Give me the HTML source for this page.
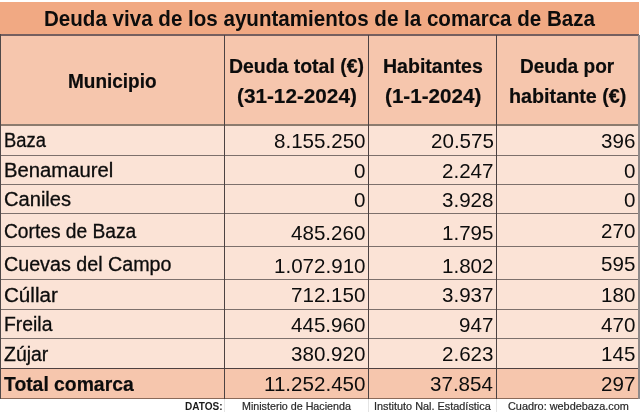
<!DOCTYPE html><html><head><meta charset="utf-8"><title>Deuda viva de los ayuntamientos de la comarca de Baza</title><style>
html,body{margin:0;padding:0;background:#fff;}
body{width:640px;height:412px;position:relative;overflow:hidden;font-family:"Liberation Sans",sans-serif;}
.b{position:absolute;}
.t{position:absolute;white-space:nowrap;line-height:1;display:inline-block;transform-origin:0 0;}
.m{display:inline-block;width:0;height:0;}
</style></head><body>
<div class="b" style="left:0.00px;top:1.85px;width:639.00px;height:33.10px;background:#F1A983"></div>
<div class="b" style="left:0.00px;top:34.95px;width:639.00px;height:90.05px;background:#F6C6AD"></div>
<div class="b" style="left:0.00px;top:125.00px;width:639.00px;height:243.40px;background:#FBE3D6"></div>
<div class="b" style="left:0.00px;top:368.40px;width:639.00px;height:30.80px;background:#F6C6AD"></div>
<div class="b" style="left:223.80px;top:398.80px;width:1.00px;height:20.00px;background:#e4e4e4"></div>
<div class="b" style="left:368.10px;top:398.80px;width:1.00px;height:20.00px;background:#e4e4e4"></div>
<div class="b" style="left:495.90px;top:398.80px;width:1.00px;height:20.00px;background:#e4e4e4"></div>
<div class="b" style="left:0.00px;top:154.88px;width:639.00px;height:0.85px;background:#7d706c"></div>
<div class="b" style="left:0.00px;top:183.88px;width:639.00px;height:0.85px;background:#7d706c"></div>
<div class="b" style="left:0.00px;top:212.97px;width:639.00px;height:0.85px;background:#7d706c"></div>
<div class="b" style="left:0.00px;top:246.07px;width:639.00px;height:0.85px;background:#7d706c"></div>
<div class="b" style="left:0.00px;top:279.18px;width:639.00px;height:0.85px;background:#7d706c"></div>
<div class="b" style="left:0.00px;top:308.68px;width:639.00px;height:0.85px;background:#7d706c"></div>
<div class="b" style="left:0.00px;top:338.18px;width:639.00px;height:0.85px;background:#7d706c"></div>
<div class="b" style="left:0.00px;top:34.10px;width:639.00px;height:1.70px;background:#755f5f"></div>
<div class="b" style="left:0.00px;top:124.00px;width:639.00px;height:2.00px;background:#8c7b6e"></div>
<div class="b" style="left:0.00px;top:367.85px;width:639.00px;height:1.10px;background:#4d4040"></div>
<div class="b" style="left:0.00px;top:398.30px;width:639.00px;height:1.00px;background:#8a6a5a"></div>
<div class="b" style="left:0.00px;top:34.15px;width:0.90px;height:365.15px;background:#4f4848"></div>
<div class="b" style="left:223.85px;top:34.95px;width:0.90px;height:364.15px;background:#4c4242"></div>
<div class="b" style="left:368.15px;top:34.95px;width:0.90px;height:364.15px;background:#4c4242"></div>
<div class="b" style="left:495.95px;top:34.95px;width:0.90px;height:364.15px;background:#4c4242"></div>
<div class="b" style="left:638.25px;top:34.95px;width:1.30px;height:364.35px;background:#8f8a8a"></div>
<span class="t" style="left:44.33px;top:7.25px;font-size:22.8px;font-weight:bold;color:#0c0c0c;transform:scaleX(0.9022)">Deuda viva de los ayuntamientos de la comarca de Baza</span>
<span class="t" style="left:67.74px;top:71.25px;font-size:20.0px;font-weight:bold;-webkit-text-stroke:0.2px #0c0c0c;color:#0c0c0c;transform:scaleX(0.9481)">Municipio</span>
<span class="t" style="left:228.87px;top:56.25px;font-size:20.0px;font-weight:bold;-webkit-text-stroke:0.2px #0c0c0c;color:#0c0c0c;transform:scaleX(0.9714)">Deuda total (€)</span>
<span class="t" style="left:237.26px;top:86.25px;font-size:20.6px;font-weight:bold;-webkit-text-stroke:0.2px #0c0c0c;color:#0c0c0c;transform:scaleX(1.0065)">(31-12-2024)</span>
<span class="t" style="left:383.00px;top:56.25px;font-size:20.0px;font-weight:bold;-webkit-text-stroke:0.2px #0c0c0c;color:#0c0c0c;transform:scaleX(0.9765)">Habitantes</span>
<span class="t" style="left:384.87px;top:86.25px;font-size:20.6px;font-weight:bold;-webkit-text-stroke:0.2px #0c0c0c;color:#0c0c0c;transform:scaleX(1.0028)">(1-1-2024)</span>
<span class="t" style="left:520.23px;top:56.25px;font-size:20.0px;font-weight:bold;-webkit-text-stroke:0.2px #0c0c0c;color:#0c0c0c;transform:scaleX(0.9523)">Deuda por</span>
<span class="t" style="left:508.77px;top:86.25px;font-size:20.0px;font-weight:bold;-webkit-text-stroke:0.2px #0c0c0c;color:#0c0c0c;transform:scaleX(0.9876)">habitante (€)</span>
<span class="t" style="left:4.20px;top:130.25px;font-size:20.0px;-webkit-text-stroke:0.3px #0c0c0c;color:#0c0c0c;transform:scaleX(0.9181)">Baza</span>
<span class="t" style="left:3.69px;top:160.25px;font-size:20.0px;-webkit-text-stroke:0.3px #0c0c0c;color:#0c0c0c;transform:scaleX(1.0135)">Benamaurel</span>
<span class="t" style="left:3.81px;top:189.25px;font-size:20.0px;-webkit-text-stroke:0.3px #0c0c0c;color:#0c0c0c;transform:scaleX(1.0055)">Caniles</span>
<span class="t" style="left:4.14px;top:221.25px;font-size:20.0px;-webkit-text-stroke:0.3px #0c0c0c;color:#0c0c0c;transform:scaleX(0.9597)">Cortes de Baza</span>
<span class="t" style="left:3.56px;top:254.25px;font-size:20.0px;-webkit-text-stroke:0.3px #0c0c0c;color:#0c0c0c;transform:scaleX(0.9845)">Cuevas del Campo</span>
<span class="t" style="left:3.67px;top:285.25px;font-size:20.0px;-webkit-text-stroke:0.3px #0c0c0c;color:#0c0c0c;transform:scaleX(1.0295)">Cúllar</span>
<span class="t" style="left:3.74px;top:314.25px;font-size:20.0px;-webkit-text-stroke:0.3px #0c0c0c;color:#0c0c0c;transform:scaleX(0.9687)">Freila</span>
<span class="t" style="left:3.88px;top:344.25px;font-size:20.0px;-webkit-text-stroke:0.3px #0c0c0c;color:#0c0c0c;transform:scaleX(0.9728)">Zújar</span>
<span class="t" style="left:3.68px;top:374.25px;font-size:20.0px;font-weight:bold;-webkit-text-stroke:0.2px #0c0c0c;color:#0c0c0c;transform:scaleX(0.9667)">Total comarca</span>
<span class="t" style="left:273.61px;top:130.25px;font-size:21.0px;color:#0c0c0c;transform:scaleX(0.9800)">8.155.250</span>
<span class="t" style="left:430.98px;top:130.25px;font-size:21.0px;color:#0c0c0c;transform:scaleX(0.9800)">20.575</span>
<span class="t" style="left:600.83px;top:130.25px;font-size:21.0px;color:#0c0c0c;transform:scaleX(0.9800)">396</span>
<span class="t" style="left:353.72px;top:160.25px;font-size:21.0px;color:#0c0c0c;transform:scaleX(0.9800)">0</span>
<span class="t" style="left:441.87px;top:160.25px;font-size:21.0px;color:#0c0c0c;transform:scaleX(0.9800)">2.247</span>
<span class="t" style="left:623.72px;top:160.25px;font-size:21.0px;color:#0c0c0c;transform:scaleX(0.9800)">0</span>
<span class="t" style="left:353.72px;top:189.25px;font-size:21.0px;color:#0c0c0c;transform:scaleX(0.9800)">0</span>
<span class="t" style="left:441.87px;top:189.25px;font-size:21.0px;color:#0c0c0c;transform:scaleX(0.9800)">3.928</span>
<span class="t" style="left:623.72px;top:189.25px;font-size:21.0px;color:#0c0c0c;transform:scaleX(0.9800)">0</span>
<span class="t" style="left:290.77px;top:222.25px;font-size:21.0px;color:#0c0c0c;transform:scaleX(0.9800)">485.260</span>
<span class="t" style="left:441.87px;top:222.25px;font-size:21.0px;color:#0c0c0c;transform:scaleX(0.9800)">1.795</span>
<span class="t" style="left:600.83px;top:220.25px;font-size:21.0px;color:#0c0c0c;transform:scaleX(0.9800)">270</span>
<span class="t" style="left:273.61px;top:255.25px;font-size:21.0px;color:#0c0c0c;transform:scaleX(0.9800)">1.072.910</span>
<span class="t" style="left:441.87px;top:255.25px;font-size:21.0px;color:#0c0c0c;transform:scaleX(0.9800)">1.802</span>
<span class="t" style="left:600.83px;top:253.25px;font-size:21.0px;color:#0c0c0c;transform:scaleX(0.9800)">595</span>
<span class="t" style="left:290.77px;top:284.25px;font-size:21.0px;color:#0c0c0c;transform:scaleX(0.9800)">712.150</span>
<span class="t" style="left:441.87px;top:284.25px;font-size:21.0px;color:#0c0c0c;transform:scaleX(0.9800)">3.937</span>
<span class="t" style="left:600.83px;top:284.25px;font-size:21.0px;color:#0c0c0c;transform:scaleX(0.9800)">180</span>
<span class="t" style="left:290.77px;top:314.25px;font-size:21.0px;color:#0c0c0c;transform:scaleX(0.9800)">445.960</span>
<span class="t" style="left:459.03px;top:314.25px;font-size:21.0px;color:#0c0c0c;transform:scaleX(0.9800)">947</span>
<span class="t" style="left:600.83px;top:314.25px;font-size:21.0px;color:#0c0c0c;transform:scaleX(0.9800)">470</span>
<span class="t" style="left:290.77px;top:343.25px;font-size:21.0px;color:#0c0c0c;transform:scaleX(0.9800)">380.920</span>
<span class="t" style="left:441.87px;top:343.25px;font-size:21.0px;color:#0c0c0c;transform:scaleX(0.9800)">2.623</span>
<span class="t" style="left:600.83px;top:343.25px;font-size:21.0px;color:#0c0c0c;transform:scaleX(0.9800)">145</span>
<span class="t" style="left:263.69px;top:373.25px;font-size:21.0px;color:#0c0c0c;transform:scaleX(0.9800)">11.252.450</span>
<span class="t" style="left:430.01px;top:373.25px;font-size:21.0px;color:#0c0c0c;transform:scaleX(0.9800)">37.854</span>
<span class="t" style="left:600.83px;top:373.25px;font-size:21.0px;color:#0c0c0c;transform:scaleX(0.9800)">297</span>
<span class="t" style="left:185.38px;top:402.25px;font-size:10.2px;font-weight:bold;color:#1a1a1a;transform:scaleX(0.9862)">DATOS:</span>
<span class="t" style="left:242.26px;top:402.25px;font-size:10.2px;-webkit-text-stroke:0.2px #2a2a2a;color:#2a2a2a;transform:scaleX(1.0503)">Ministerio de Hacienda</span>
<span class="t" style="left:373.86px;top:402.25px;font-size:10.2px;-webkit-text-stroke:0.2px #2a2a2a;color:#2a2a2a;transform:scaleX(1.0684)">Instituto Nal. Estadística</span>
<span class="t" style="left:508.12px;top:402.25px;font-size:10.2px;-webkit-text-stroke:0.2px #2a2a2a;color:#2a2a2a;transform:scaleX(1.0676)">Cuadro: webdebaza.com</span>
</body></html>
